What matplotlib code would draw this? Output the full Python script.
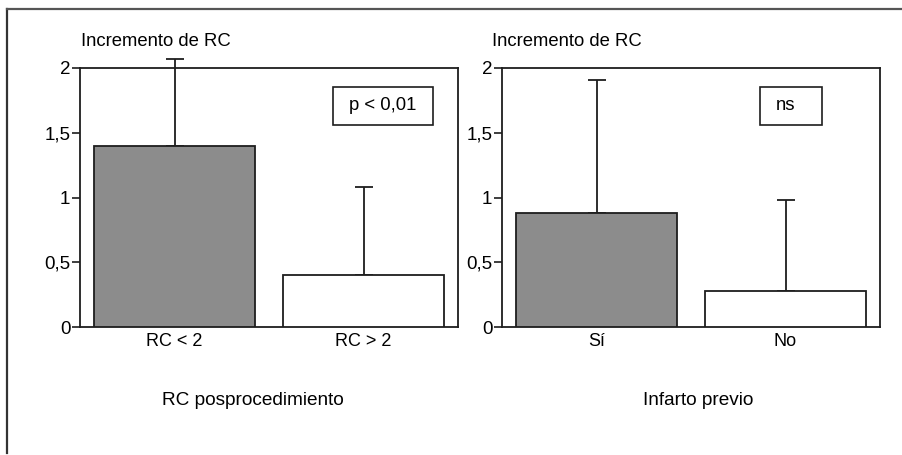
import matplotlib

matplotlib.use("Agg")
import matplotlib.pyplot as plt
from matplotlib.patches import Rectangle
from matplotlib.ticker import FuncFormatter

plt.rcParams["font.family"] = ["Liberation Sans", "DejaVu Sans"]

# Left panel: post-procedure RC groups
rc_groups = ["RC < 2", "RC > 2"]
rc_means = [1.40, 0.40]
rc_sd = [0.67, 0.68]

# Right panel: previous infarction
infarct_groups = ["Sí", "No"]
infarct_means = [0.88, 0.28]
infarct_sd = [1.03, 0.70]

bar_colors = ["#8c8c8c", "#ffffff"]
y_ticks = [0, 0.5, 1, 1.5, 2]
ink = "#1e1e1e"


def comma_fmt(v, _pos):
    return f"{v:g}".replace(".", ",")


def draw_panel(ax, groups, means, sd, xlabel, xlabel_x, note, note_box):
    pos = range(len(groups))
    ax.bar(pos, means, width=0.85, color=bar_colors, edgecolor=ink, linewidth=1.3, zorder=3)
    eb = ax.errorbar(pos, means, yerr=[[0] * len(sd), sd], fmt="none", ecolor=ink,
                     elinewidth=1.3, capsize=6.5, capthick=1.3, zorder=2)
    for art in eb.get_children():
        art.set_clip_on(False)
    ax.set_xlim(-0.5, 1.5)
    ax.set_ylim(0, 2)
    ax.set_yticks(y_ticks)
    ax.yaxis.set_major_formatter(FuncFormatter(comma_fmt))
    ax.set_xticks(list(pos), groups)
    ax.tick_params(axis="y", length=6, width=1.2, pad=1, labelsize=13.5, color=ink)
    ax.tick_params(axis="x", length=0, pad=4, labelsize=13)
    for sp in ax.spines.values():
        sp.set_linewidth(1.3)
        sp.set_color(ink)

    x0, y0, w, h = note_box
    ax.add_patch(Rectangle((x0, y0), w, h, transform=ax.transAxes, fill=False,
                           edgecolor=ink, linewidth=1.2, clip_on=False, zorder=4))
    ax.text(x0 + 0.042, y0 + h / 2, note, transform=ax.transAxes, ha="left", va="center",
            fontsize=13.3)
    ax.text(xlabel_x, -0.282, xlabel, transform=ax.transAxes, ha="center", va="center",
            fontsize=13.7)


fig = plt.figure(figsize=(9.03, 4.55), dpi=100)

# outer frame lines (left and top)
fig.add_artist(plt.Line2D([7 / 903, 7 / 903], [1 - 9 / 455, 0.005], color="#333333", linewidth=1.6))
fig.add_artist(plt.Line2D([7 / 903, 1.0], [1 - 9 / 455, 1 - 9 / 455], color="#555555", linewidth=1.6))

ax1 = fig.add_axes([80 / 903, 1 - 327 / 455, 378 / 903, 259 / 455])
ax2 = fig.add_axes([502 / 903, 1 - 327 / 455, 378 / 903, 259 / 455])

draw_panel(ax1, rc_groups, rc_means, rc_sd, "RC posprocedimiento", 0.458, "p < 0,01",
           (0.669, 0.780, 0.265, 0.147))
draw_panel(ax2, infarct_groups, infarct_means, infarct_sd, "Infarto previo", 0.519, "ns",
           (0.683, 0.780, 0.164, 0.147))

ax1.text(0.003, 1.104, "Incremento de RC", transform=ax1.transAxes, ha="left", va="center", fontsize=13.3)
ax2.text(-0.026, 1.104, "Incremento de RC", transform=ax2.transAxes, ha="left", va="center", fontsize=13.3)

fig.savefig("out.png", dpi=100)
